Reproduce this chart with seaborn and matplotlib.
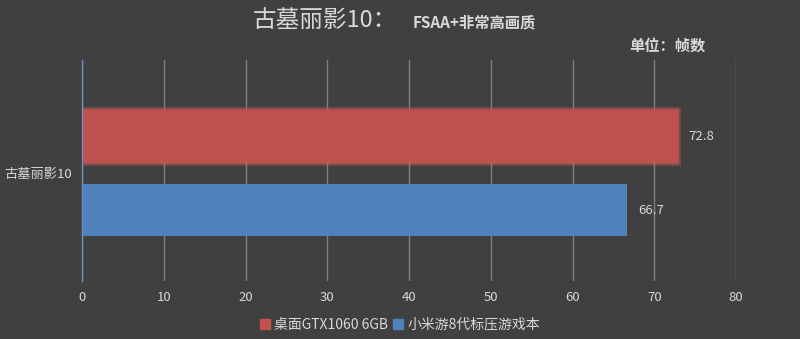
import matplotlib
matplotlib.use("Agg")
import matplotlib.pyplot as plt
import matplotlib.patheffects as pe
import seaborn as sns
import pandas as pd

categories = ["古墓丽影10"]
series_names = ["桌面GTX1060 6GB", "小米游8代标压游戏本"]
values_gtx = [72.8]
values_mi = [66.7]
x_ticks = [0, 10, 20, 30, 40, 50, 60, 70, 80]

BG = "#404040"
TXT = "#d9d9d9"
colors = ["#C0504D", "#4F81BD"]

sns.set_theme(style="dark")
plt.rcParams['font.family'] = ['Noto Sans CJK SC', 'DejaVu Sans']

df = pd.DataFrame({
    "cat": categories * 2,
    "series": [series_names[0]] * len(categories) + [series_names[1]] * len(categories),
    "val": values_gtx + values_mi,
})

fig = plt.figure(figsize=(8, 3.39), dpi=100, facecolor=BG)
ax = fig.add_axes([0.1025, 0.171, 0.8175, 0.652])
ax.set_facecolor(BG)
ax.set_axisbelow(True)

sns.barplot(data=df, y="cat", x="val", hue="series", palette=colors, orient="h",
            width=0.8, gap=0.3, ax=ax, legend=True, saturation=1, edgecolor="none",
            linewidth=0)

ax.set_xlim(0, 80)
ax.set_ylim(0.584, -0.611)
ax.set_xticks(x_ticks)
ax.grid(axis="x", color="#7f7f7f", linewidth=1)
ax.grid(axis="y", visible=False)
for s in ["top", "right", "bottom"]:
    ax.spines[s].set_visible(False)
ax.spines["left"].set_color("#6b8fc7")
ax.spines["left"].set_linewidth(1)
ax.set_xlabel("")
ax.set_ylabel("")
ax.tick_params(axis="both", colors=TXT, labelsize=9.5, length=0, pad=7)
for lab in ax.get_xticklabels() + ax.get_yticklabels():
    lab.set_color(TXT)

# soft glow on red bar
for p in ax.patches[:len(categories)]:
    p.set_path_effects([pe.withStroke(linewidth=5, foreground="#e06060", alpha=0.3),
                        pe.withStroke(linewidth=2.5, foreground="#d05a57", alpha=0.6),
                        pe.Normal()])

for cont in ax.containers:
    ax.bar_label(cont, fmt="%.1f", padding=8, color=TXT, fontsize=9.5)

leg = ax.get_legend()
leg.remove()
handles = [plt.Rectangle((0, 0), 1, 1, color=c) for c in colors]
fig.legend(handles, series_names, loc="center", bbox_to_anchor=(0.5, 0.042), ncol=2,
           frameon=False, fontsize=10, labelcolor=TXT, handlelength=0.7, handleheight=0.7,
           handletextpad=0.3, columnspacing=0.4)

fig.text(0.316, 0.94, "古墓丽影10：", fontsize=17, color=TXT, va="center", ha="left",
         fontweight="medium")
fig.text(0.516, 0.935, "FSAA+非常高画质", fontsize=11, color=TXT, va="center", ha="left",
         fontweight="bold")
fig.text(0.787, 0.862, "单位：帧数", fontsize=11, color=TXT, va="center", ha="left",
         fontweight="bold")

fig.savefig("out.png", dpi=100, facecolor=BG)
